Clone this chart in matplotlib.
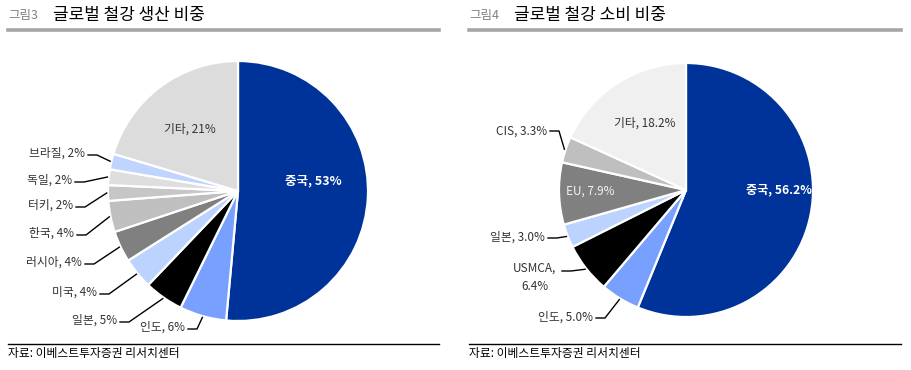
import numpy as np
import matplotlib
matplotlib.use("Agg")
import matplotlib.pyplot as plt
from matplotlib.lines import Line2D

plt.rcParams['font.family'] = ['Noto Sans CJK KR', 'DejaVu Sans']

# 생산 비중
prod_labels = ["중국", "인도", "일본", "미국", "러시아", "한국", "터키", "독일", "브라질", "기타"]
prod_values = [53, 6, 5, 4, 4, 4, 2, 2, 2, 21]
prod_colors = ["#00339a", "#78a0ff", "#000000", "#bcd2ff", "#808080",
               "#bfbfbf", "#c6c6c6", "#dedede", "#bfd4ff", "#dcdcdc"]

# 소비 비중
cons_labels = ["중국", "인도", "USMCA", "일본", "EU", "CIS", "기타"]
cons_values = [56.2, 5.0, 6.4, 3.0, 7.9, 3.3, 18.2]
cons_colors = ["#00339a", "#78a0ff", "#000000", "#bcd2ff", "#808080", "#bfbfbf", "#f0f0f0"]

W, H = 911, 370
fig = plt.figure(figsize=(W / 100, H / 100), dpi=100)


def px(x, y):
    return x / W, 1 - y / H


def pie_axes(cx, cy, r):
    ax = fig.add_axes([(cx - r) / W, (H - cy - r) / H, 2 * r / W, 2 * r / H])
    return ax


def draw_pie(ax, values, colors):
    wedges, _ = ax.pie(values, colors=colors, startangle=90, counterclock=False,
                       wedgeprops=dict(edgecolor="white", linewidth=1.6))
    ax.set_xlim(-1, 1)
    ax.set_ylim(-1, 1)
    ax.set_aspect("equal")
    ax.axis("off")
    return wedges


def leader(ax, wedge, text_xy, hook=9, r=1.01):
    # 텍스트 끝(픽셀) -> 짧은 수평선 -> 조각 가장자리
    ang = np.deg2rad((wedge.theta1 + wedge.theta2) / 2)
    ex, ey = ax.transData.transform((r * np.cos(ang), r * np.sin(ang)))
    tx, ty = text_xy[0], H - text_xy[1]
    fig.add_artist(Line2D([tx, tx + hook, ex], [ty, ty, ey], color="black",
                          linewidth=1.0, transform=None))


def header(x0, x1, num, title):
    fig.text(*px(x0, 15), num, fontsize=9, color="#808080", va="center")
    fig.text(*px(x0 + 45, 15), title, fontsize=12.2, color="black", va="center")
    fig.add_artist(Line2D([x0 / W, x1 / W], [1 - 30 / H] * 2, color="#a6a6a6",
                          linewidth=2.6, transform=fig.transFigure))
    fig.add_artist(Line2D([x0 / W, x1 / W], [1 - 344 / H] * 2, color="black",
                          linewidth=1.0, transform=fig.transFigure))
    fig.text(*px(x0, 354), "자료: 이베스트투자증권 리서치센터", fontsize=8.5,
             color="black", va="center")


fs = 8.5

# ---- 왼쪽: 생산 ----
header(8, 439, "그림3", "글로벌 철강 생산 비중")
axL = pie_axes(238, 191, 130)
wL = draw_pie(axL, prod_values, prod_colors)

fig.text(*px(313, 181), f"{prod_labels[0]}, {prod_values[0]}%", fontsize=9,
         color="white", weight="bold", ha="center", va="center")
fig.text(*px(190, 129), f"{prod_labels[9]}, {prod_values[9]}%", fontsize=fs,
         color="#333333", ha="center", va="center")

left_pos = {
    1: (185, 327),
    2: (117, 320),
    3: (97, 292),
    4: (82, 262),
    5: (74, 233),
    6: (73, 205),
    7: (72, 180),
    8: (85, 153),
}
for i, (x, y) in left_pos.items():
    fig.text(*px(x, y), f"{prod_labels[i]}, {prod_values[i]}%", fontsize=fs,
             color="#333333", ha="right", va="center")
    leader(axL, wL[i], (x + 3, y + 2))

# ---- 오른쪽: 소비 ----
header(469, 901, "그림4", "글로벌 철강 소비 비중")
axR = pie_axes(686, 190, 127)
wR = draw_pie(axR, cons_values, cons_colors)

fig.text(*px(779, 190), f"{cons_labels[0]}, {cons_values[0]}%", fontsize=8.7,
         color="white", weight="bold", ha="center", va="center")
fig.text(*px(645, 123), f"{cons_labels[6]}, {cons_values[6]}%", fontsize=fs,
         color="#333333", ha="center", va="center")
fig.text(*px(590, 191), f"{cons_labels[4]}, {cons_values[4]}%", fontsize=fs,
         color="#f2f2f2", ha="center", va="center")

fig.text(*px(593, 317), f"{cons_labels[1]}, {cons_values[1]}%", fontsize=fs,
         color="#333333", ha="right", va="center")
leader(axR, wR[1], (596, 318))
fig.text(*px(535, 268), f"{cons_labels[2]},", fontsize=fs,
         color="#333333", ha="center", va="center")
fig.text(*px(535, 287), f"{cons_values[2]}%", fontsize=fs,
         color="#333333", ha="center", va="center")
leader(axR, wR[2], (562, 271))
fig.text(*px(545, 237), f"{cons_labels[3]}, {cons_values[3]}%", fontsize=fs,
         color="#333333", ha="right", va="center")
leader(axR, wR[3], (548, 238))
fig.text(*px(547, 131), f"{cons_labels[5]}, {cons_values[5]}%", fontsize=fs,
         color="#333333", ha="right", va="center")
leader(axR, wR[5], (550, 131))

fig.savefig("out.png", dpi=100)
